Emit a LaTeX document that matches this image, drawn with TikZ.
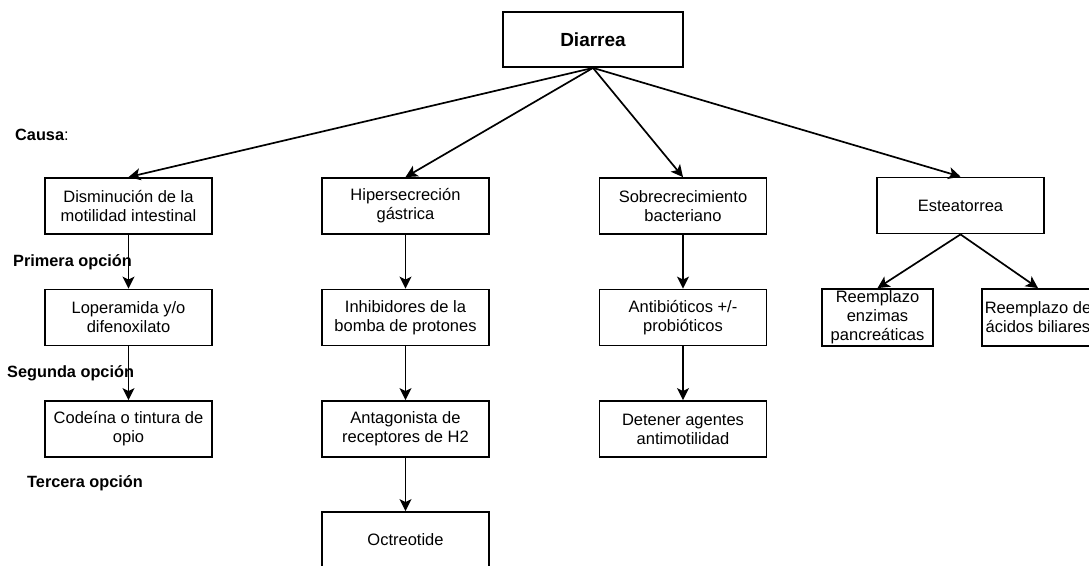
\documentclass[tikz,border=0pt]{standalone}
\usepackage{fontspec}
\setmainfont{Liberation Sans}
\usetikzlibrary{arrows.meta}
\begin{document}
\begin{tikzpicture}[x=1pt,y=-1pt,
  box/.style={draw, line width=1.8pt, minimum width=167pt, minimum height=56pt,
    inner sep=0pt, align=center, font=\fontsize{16.5}{19}\selectfont},
  smallbox/.style={box, minimum width=111pt, minimum height=57pt},
  steplabel/.style={anchor=west, inner sep=0pt, font=\fontsize{16.3}{19}\selectfont\bfseries},
  link/.style={line width=1.7pt, -{Stealth[length=12pt,width=12pt,inset=3pt]}}]
\clip (0,0) rectangle (1089,565);
\fill[white] (0,0) rectangle (1089,565);

% root
\node[box, minimum width=180pt, minimum height=55pt, font=\fontsize{19}{22}\selectfont\bfseries]
  (root) at (593,39.5) {Diarrea};

% causes
\node[box] (c1) at (128.5,206) {Disminución de la\\motilidad intestinal};
\node[box] (c2) at (405.5,206) {Hipersecreción\\gástrica};
\node[box] (c3) at (683,206) {Sobrecrecimiento\\bacteriano};
\node[box] (c4) at (960.5,205.5) {Esteatorrea};

% first option
\node[box] (a1) at (128.5,317.5) {Loperamida y/o\\difenoxilato};
\node[box] (a2) at (405.5,317.5) {Inhibidores de la\\bomba de protones};
\node[box] (a3) at (683,317.5) {Antibióticos +/-\\probióticos};
\node[smallbox] (a4) at (877.5,317.5) {Reemplazo\\enzimas\\pancreáticas};
\node[smallbox, minimum width=112pt] (a5) at (1038,317.5) {Reemplazo de\\ácidos biliares};

% second option
\node[box] (b1) at (128.5,429) {Codeína o tintura de\\opio};
\node[box] (b2) at (405.5,429) {Antagonista de\\receptores de H2};
\node[box] (b3) at (683,429) {Detener agentes\\antimotilidad};

% third option
\node[box] (d2) at (405.5,540) {Octreotide};

% row labels
\node[steplabel] (lcausa) at (15,135) {Causa\mdseries:};
\node[steplabel] (lprim) at (13,262) {Primera opción};
\node[steplabel] (lseg) at (7,373) {Segunda opción};
\node[steplabel] (lter) at (27,483) {Tercera opción};

% connectors
\foreach \t in {c1,c2,c3,c4} \draw[link] (root.south) -- (\t.north);
\draw[link] (c1) -- (a1);
\draw[link] (a1) -- (b1);
\draw[link] (c2) -- (a2);
\draw[link] (a2) -- (b2);
\draw[link] (b2) -- (d2);
\draw[link] (c3) -- (a3);
\draw[link] (a3) -- (b3);
\draw[link] (c4.south) -- (a4.north);
\draw[link] (c4.south) -- (a5.north);
\end{tikzpicture}
\end{document}
